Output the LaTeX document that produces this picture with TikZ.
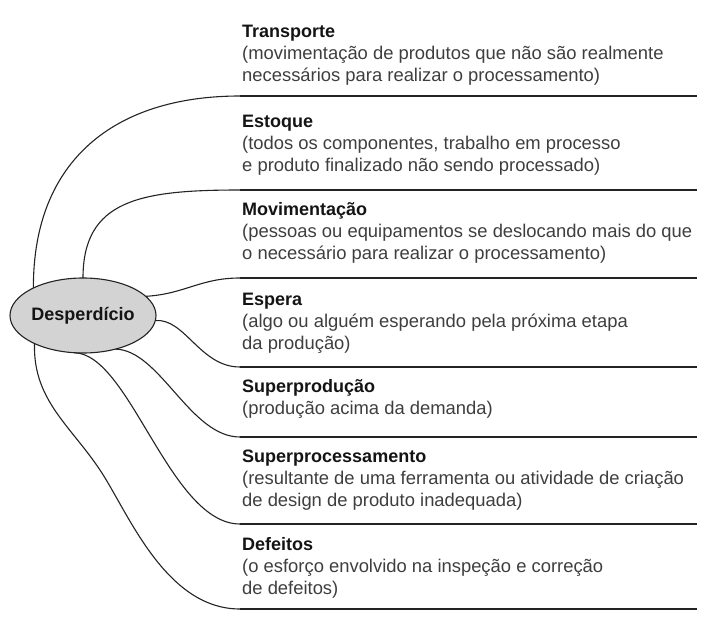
\documentclass[tikz,border=0pt]{standalone}
\usepackage{fontspec}
\setmainfont{Liberation Sans}
\usetikzlibrary{shapes.geometric}
\definecolor{ellfill}{RGB}{211,211,211}
\definecolor{linec}{RGB}{35,35,35}
\definecolor{bodyc}{RGB}{62,62,62}
\definecolor{titlec}{RGB}{20,20,20}
\tikzset{
  hub/.style={ellipse, draw=linec, line width=1.1pt, fill=ellfill, inner sep=0pt, outer sep=0pt,
    minimum width=146pt, minimum height=75pt, font=\fontsize{18}{22}\selectfont\bfseries, text=titlec},
  item/.style={anchor=base west, inner sep=0pt, align=left, text=bodyc, font=\fontsize{18.4}{22}\selectfont},
  rule/.style={draw=linec, line width=1.2pt},
  conn/.style={draw=linec, line width=1.1pt}
}
\newcommand{\ttl}[1]{{\color{titlec}\fontsize{18}{22}\selectfont\bfseries #1}}
\begin{document}
\begin{tikzpicture}[x=1pt,y=-1pt]
\useasboundingbox (0,0) rectangle (702,624);
\node[hub] (d) at (83,315.5) {Desperdício};

\foreach \n/\y in {1/96,2/190,3/278,4/367,5/437,6/524,7/609}{
  \coordinate (l\n) at (240,\y);
  \coordinate (r\n) at (697,\y);
  \draw[rule] (l\n) -- (r\n);
}

% node anchor = baseline of the last line
\node[item] (t1) at (242,81) {\ttl{Transporte}\\(movimentação de produtos que não são realmente\\necessários para realizar o processamento)};
\node[item] (t2) at (242,171) {\ttl{Estoque}\\(todos os componentes, trabalho em processo\\e produto finalizado não sendo processado)};
\node[item] (t3) at (242,259) {\ttl{Movimentação}\\(pessoas ou equipamentos se deslocando mais do que\\o necessário para realizar o processamento)};
\node[item] (t4) at (242,349) {\ttl{Espera}\\(algo ou alguém esperando pela próxima etapa\\da produção)};
\node[item] (t5) at (242,414) {\ttl{Superprodução}\\(produção acima da demanda)};
\node[item] (t6) at (242,506) {\ttl{Superprocessamento}\\(resultante de uma ferramenta ou atividade de criação\\de design de produto inadequada)};
\node[item] (t7) at (242,594) {\ttl{Defeitos}\\(o esforço envolvido na inspeção e correção\\de defeitos)};

\draw[conn] (d.151) .. controls (33,160) and (115,96) .. (l1);
\draw[conn] (d.north) .. controls (83,200) and (140,190) .. (l2);
\draw[conn] (d.17) .. controls (185,294) and (200,278) .. (l3);
\draw[conn] (d.-4) .. controls (185,318) and (200,367) .. (l4);
\draw[conn] (d.-46) .. controls (160,350) and (190,437) .. (l5);
\draw[conn] (d.-103) .. controls (130,354) and (170,524) .. (l6);
\draw[conn] (d.210) .. controls (33,400) and (70,425) .. (100,470) .. controls (128,512) and (165,609) .. (l7);
\end{tikzpicture}
\end{document}
